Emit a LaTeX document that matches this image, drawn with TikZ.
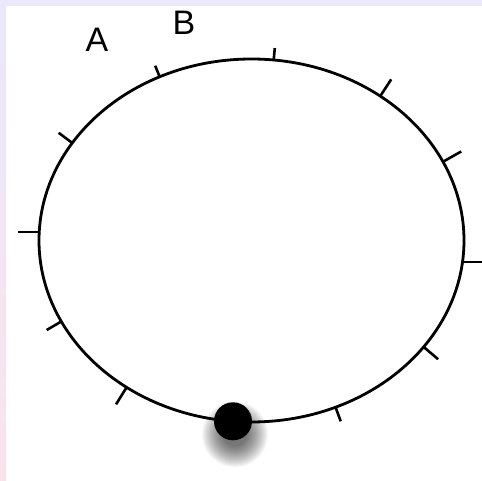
\documentclass[tikz,border=0pt]{standalone}
\usepackage{fontspec}
\setmainfont{Liberation Sans}
\usepackage{tikz}
\usetikzlibrary{calc}
\definecolor{edgelav}{RGB}{234,232,250}
\definecolor{edgepink}{RGB}{250,228,236}

\begin{document}
\begin{tikzpicture}[
    x=1pt, y=1pt,
    every node/.style={font=\fontsize{34}{34}\selectfont, inner sep=0pt},
    rim/.style={draw=black, line width=2.8pt},
    tickmark/.style={draw=black, line width=2.6pt},
    marker/.style={circle, fill=black, minimum size=38pt}
]
\useasboundingbox (0,0) rectangle (482,481);

% Frame
\fill[white] (0,0) rectangle (482,481);
\fill[edgelav] (0,475) rectangle (482,481);
\shade[top color=edgelav, bottom color=edgepink] (0,0) rectangle (6,475);

% Ring
\coordinate (mid) at (251.5,240.5);
\draw[rim] (mid) ellipse [x radius=212.5, y radius=181.5];

% Ticks
\foreach \t/\len in {177.3/21, 147.5/17, 115.6/12, 84/12, 52.7/20, 25.7/21,
                     -6.8/19, -35.9/19, -66.7/15, -126/20, -153.5/17}
    \draw[tickmark] ($(mid)+(\t:212.5 and 181.5)$)
        -- ++({atan2(sin(\t)/181.5, cos(\t)/212.5)}:\len);

% Labels
\node (lblA) at (97,441) {A};
\node (lblB) at (184,458.5) {B};

% Bead with shadow
\coordinate (beadpos) at ($(mid)+(-95:212.5 and 181.5)$);
\coordinate (shadowpos) at ($(beadpos)+(2,-13)$);
\foreach \r in {33,32,...,12}
    \fill[black, opacity=0.032] (shadowpos) circle (\r);
\node[marker] (bead) at (beadpos) {};

\end{tikzpicture}
\end{document}
